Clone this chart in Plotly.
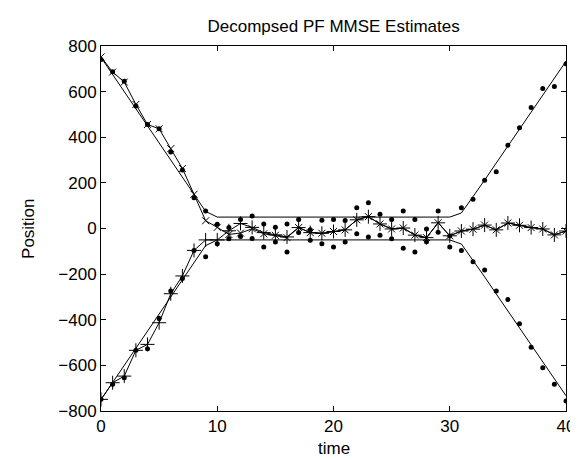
import plotly.graph_objects as go

t = list(range(41))

truth_upper = [750, 675, 600, 525, 450, 375, 300, 225, 150, 75,
               50, 50, 50, 50, 50, 50, 50, 50, 50, 50,
               50, 50, 50, 50, 50, 50, 50, 50, 50, 50,
               50, 68, 138, 212, 287, 361, 436, 510, 585, 659, 733]
truth_lower = [-750, -675, -600, -525, -450, -375, -300, -225, -150, -75,
               -50, -50, -50, -50, -50, -50, -50, -50, -50, -50,
               -50, -50, -50, -50, -50, -50, -50, -50, -50, -50,
               -50, -68, -138, -212, -287, -361, -436, -510, -585, -659, -733]

meas_a = [741, 687, 645, 537, 456, 437, 335, 256, 135, 77,
          19, 4, 40, 55, 20, 6, 20, 40, -5, 36,
          40, 35, 91, 113, 62, 40, 77, 40, -2, 77,
          -33, 91, 128, 212, 249, 365, 442, 530, 614, 622, 722]
meas_b = [-749, -683, -654, -534, -527, -395, -274, -219, -96, -124,
          -67, -45, -35, -44, -81, -59, -103, -18, -52, -67,
          -81, -59, -23, -37, -30, -45, -87, -103, -58, -16,
          -81, -96, -146, -182, -274, -311, -417, -520, -610, -683, -756]

est_x = [752, 686, 642, 544, 456, 437, 350, 263, 150, 34,
         5, -26, -20, -1, -23, -30, -40, 4, -18, -21,
         -13, -6, 38, 52, 20, -2, 2, -29, -40, 25,
         -32, -11, -3, 15, -6, 24, 14, 4, -2, -28, -11]
est_plus = [-749, -676, -647, -534, -508, -413, -286, -208, -96, -50,
            -50, -10, 22, 5, -18, -28, -37, 4, -18, -21,
            -13, -6, 38, 52, 20, -2, 2, -29, -40, 25,
            -32, -11, -3, 15, -6, 24, 14, 4, -2, -28, -11]

x_ticks = [0, 10, 20, 30, 40]
y_ticks = [-800, -600, -400, -200, 0, 200, 400, 600, 800]

FONT = "Liberation Sans, Arial, sans-serif"
FS = 17
BLK = "black"

fig = go.Figure()
fig.add_trace(go.Scatter(x=t, y=truth_upper, mode="lines",
                         line=dict(color=BLK, width=1), showlegend=False))
fig.add_trace(go.Scatter(x=t, y=truth_lower, mode="lines",
                         line=dict(color=BLK, width=1), showlegend=False))
fig.add_trace(go.Scatter(x=t + t, y=meas_a + meas_b, mode="markers",
                         marker=dict(color=BLK, size=5, symbol="circle"),
                         showlegend=False))
fig.add_trace(go.Scatter(x=t, y=est_x, mode="lines+markers",
                         line=dict(color=BLK, width=1),
                         marker=dict(symbol="x-thin", size=7,
                                     line=dict(color=BLK, width=1)),
                         showlegend=False))
fig.add_trace(go.Scatter(x=t, y=est_plus, mode="lines+markers",
                         line=dict(color=BLK, width=1),
                         marker=dict(symbol="cross-thin", size=10,
                                     line=dict(color=BLK, width=1)),
                         showlegend=False))

axis_common = dict(showline=True, linecolor=BLK, linewidth=1, mirror="ticks",
                   ticks="inside", ticklen=5, tickcolor=BLK, tickwidth=1,
                   showgrid=False, zeroline=False,
                   tickfont=dict(family=FONT, size=FS, color=BLK))

fig.update_layout(
    width=578, height=460,
    margin=dict(l=93, r=20, t=38, b=57),
    paper_bgcolor="white", plot_bgcolor="white",
    font=dict(family=FONT, size=FS, color=BLK),
    xaxis=dict(range=[0, 40], tickvals=x_ticks, **axis_common),
    yaxis=dict(range=[-800, 800], tickvals=y_ticks, **axis_common),
    title=dict(text="Decompsed PF MMSE Estimates", x=0.5634, xanchor="center",
               y=1 - 18 / 460, yanchor="middle",
               font=dict(family=FONT, size=FS, color=BLK)),
    annotations=[
        dict(text="time", xref="paper", yref="paper", x=0.5, y=-0.103,
             xanchor="center", yanchor="middle", showarrow=False,
             font=dict(family=FONT, size=FS, color=BLK)),
        dict(text="Position", xref="paper", yref="paper", x=-0.156, y=0.5,
             xanchor="center", yanchor="middle", showarrow=False, textangle=-90,
             font=dict(family=FONT, size=FS, color=BLK)),
    ],
)

fig.write_html("out.html")
